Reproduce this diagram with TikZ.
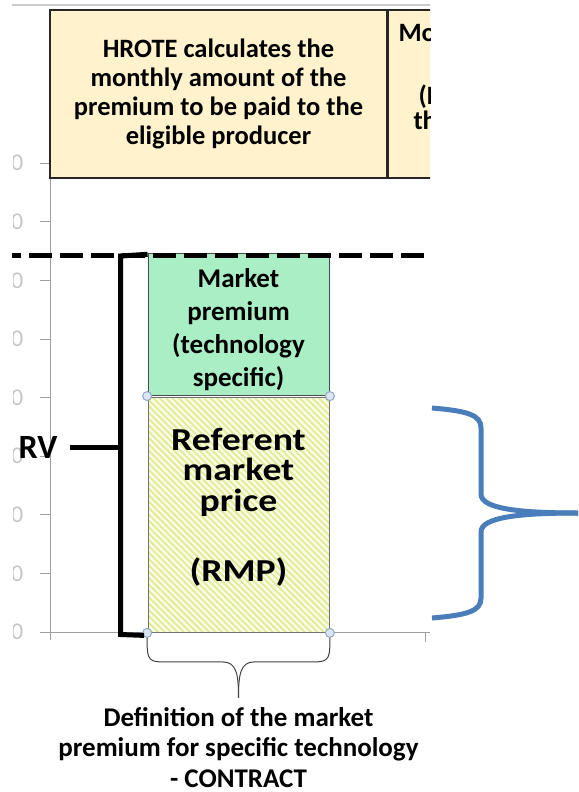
\documentclass[tikz,border=0pt]{standalone}
\usepackage{fontspec}
\setmainfont{Carlito}
\newfontfamily\widefont[FakeStretch=1.18]{Carlito}
\usetikzlibrary{arrows.meta, positioning, calc, patterns.meta}

\definecolor{boxyellow}{HTML}{FFF2CC}
\definecolor{mpgreen}{HTML}{A9EEC4}
\definecolor{rmpback}{HTML}{FAFBE3}
\definecolor{rmpline}{HTML}{E2EB98}
\definecolor{bracebl}{HTML}{4A7EBB}
\definecolor{handlebl}{HTML}{8EA9C8}
\definecolor{handlefill}{HTML}{DCE6F2}

\begin{document}
\begin{tikzpicture}[
    x=1pt, y=-1pt,
    font=\bfseries,
    every node/.style={align=center},
    axisline/.style={draw=gray!75, line width=1pt},
    ticklabel/.style={text=gray!45, inner sep=0pt, anchor=east,
        font=\fontsize{24}{29}\selectfont},
    infobox/.style={draw=black!85, line width=1.5pt, fill=boxyellow,
        minimum height=168pt, inner sep=0pt,
        font=\fontsize{26.5}{29}\selectfont\bfseries},
    mpbox/.style={draw=black!70, line width=0.8pt, fill=mpgreen,
        minimum width=181pt, minimum height=142pt, inner sep=0pt},
    mptext/.style={inner sep=0pt, font=\fontsize{27}{33}\selectfont\bfseries},
    rmpbox/.style={draw=black!55, line width=0.8pt,
        preaction={fill=rmpback},
        pattern={Lines[angle=-45, distance=4.5pt, line width=1.8pt]},
        pattern color=rmpline,
        minimum width=181pt, minimum height=235pt, inner sep=0pt},
    rmptext/.style={inner sep=0pt,
        font=\widefont\fontsize{32}{30.5}\selectfont\bfseries},
    handle/.style={draw=handlebl, fill=handlefill, line width=1pt},
    rvbracket/.style={draw=black, line width=5pt},
    thinbrace/.style={draw=black!75, line width=1pt},
    bigbrace/.style={draw=bracebl, line width=5pt},
    caption/.style={font=\fontsize{27}{30.5}\selectfont\bfseries}
]
\useasboundingbox (0,0) rectangle (578,792);

%-------------------------------
% 1) Chart frame (cropped)
%-------------------------------
\begin{scope}
\clip (13,0) rectangle (430,792);
\foreach \i in {0,...,8}
  \node[ticklabel] (lbl\i) at (23.5,{632-58.6*\i}) {0};
\end{scope}

\begin{scope}
\clip (12,0) rectangle (430,792);
\draw[draw=gray!40, line width=2pt] (12,5) -- (430,5);

% axes and ticks
\draw[axisline] (50,10) -- (50,640);
\draw[axisline] (42,632) -- (430,632);
\draw[axisline] (425,632) -- (425,642);
\foreach \i in {0,...,8}
  \draw[axisline] (40,{632-58.6*\i}) -- (50,{632-58.6*\i});

% info boxes on top
\node[infobox, minimum width=337pt] (calc) at (218.5,94)
  {HROTE calculates the\\monthly amount of the\\premium to be paid to the\\eligible producer};
\node[infobox, minimum width=100pt, anchor=north west] (monthly)
  at (calc.north east) {};
\node[anchor=west, font=\fontsize{26.5}{29}\selectfont\bfseries] (mo1) at (395,33) {Mo};
\node[anchor=west, font=\fontsize{26.5}{29}\selectfont\bfseries] (mo2) at (415,97) {(H};
\node[anchor=west, font=\fontsize{26.5}{29}\selectfont\bfseries] (mo3) at (410,120) {th};

%-------------------------------
% 2) Stacked bar: RMP + market premium
%-------------------------------
\node[rmpbox] (rmp) at (238.5,514.5) {};
\node[mpbox, above=0pt of rmp] (mp) {};
\node[rmptext] (rmplabel) at ($(rmp.center)+(0,-7)$)
  {Referent\\market\\price\\[40pt](RMP)};
\node[mptext] (mplabel) at ($(mp.center)+(0,5)$)
  {Market\\premium\\(technology\\specific)};

\foreach \c in {rmp.north west, rmp.north east, rmp.south west, rmp.south east}
  \draw[handle] (\c) circle (4.5);

% dashed level line
\draw[black, line width=5pt, dash pattern=on 23pt off 8pt, dash phase=14pt]
  (12,255) -- (430,255);
\end{scope}

%-------------------------------
% 3) RV bracket
%-------------------------------
\node[font=\fontsize{34}{36}\selectfont\bfseries, inner sep=0pt] (rv) at (38,447) {RV};
\coordinate (rvjoin) at (120.5,447);
\draw[rvbracket] ($(mp.north west)+(0,1)$) -- (120.5,256) -- (120.5,634.5)
  -- ($(rmp.south west)+(-3,2.5)$);
\draw[rvbracket] ($(rv.east)+(12,0)$) -- (rvjoin);

%-------------------------------
% 4) Brace under the bar + caption
%-------------------------------
\coordinate (tip) at ($(rmp.south)+(0,65)$);
\draw[thinbrace] ($(rmp.south west)+(0,5)$)
  .. controls +(0,18) and +(-14,0) .. ++(14,24) -- ($(tip)+(-16,-36)$)
  .. controls +(14,0) and +(0,-24) .. (tip);
\draw[thinbrace] ($(rmp.south east)+(0,5)$)
  .. controls +(0,18) and +(14,0) .. ++(-14,24) -- ($(tip)+(16,-36)$)
  .. controls +(-14,0) and +(0,-24) .. (tip);
\node[caption, anchor=north] (caption) at ($(tip)+(0,6)$)
  {Definition of the market\\premium for specific technology\\- CONTRACT};

%-------------------------------
% 5) Big blue brace on the right
%-------------------------------
\coordinate (bigtip) at (578,513);
\draw[bigbrace] (432,408) .. controls (468,411) and (481,415) .. (481,428)
  -- (481,494) .. controls (481,508) and (515,513) .. (bigtip);
\draw[bigbrace] (432,618) .. controls (468,615) and (481,611) .. (481,598)
  -- (481,532) .. controls (481,518) and (515,513) .. (bigtip);

\end{tikzpicture}
\end{document}
